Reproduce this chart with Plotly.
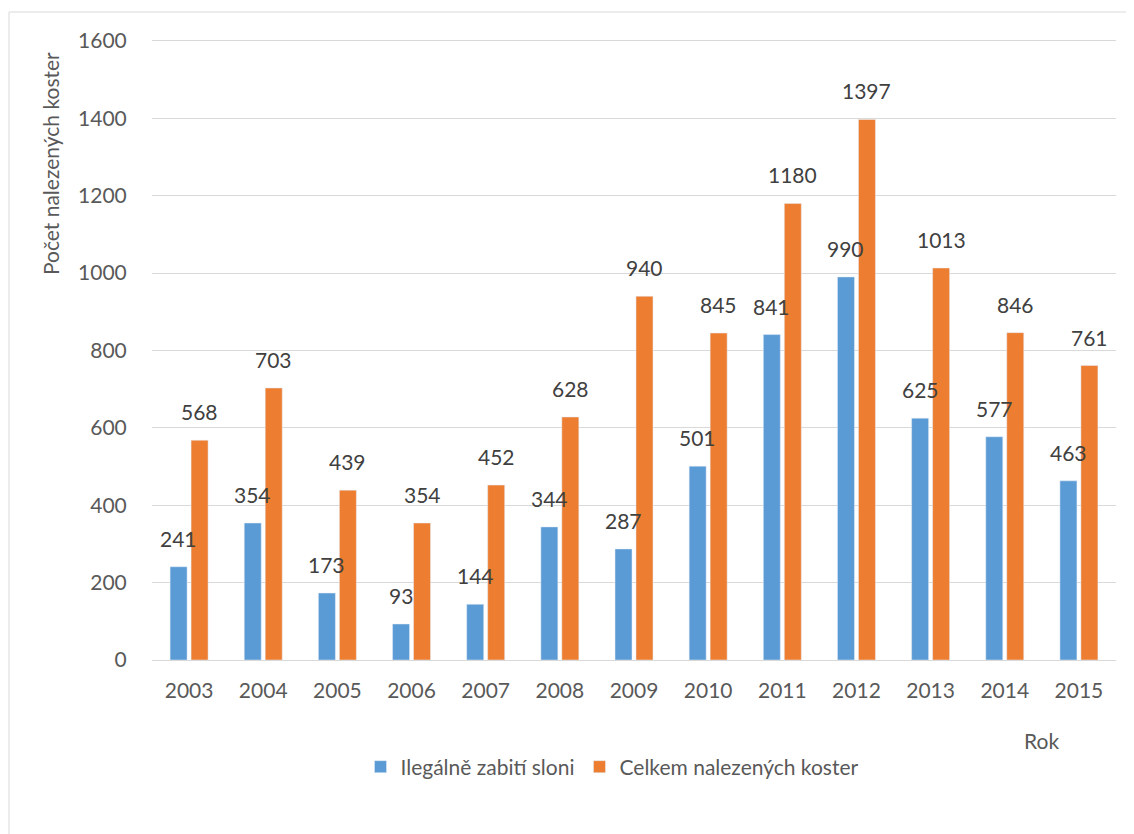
import plotly.graph_objects as go

years = ["2003", "2004", "2005", "2006", "2007", "2008", "2009", "2010", "2011", "2012", "2013", "2014", "2015"]
illegal = [241, 354, 173, 93, 144, 344, 287, 501, 841, 990, 625, 577, 463]
total = [568, 703, 439, 354, 452, 628, 940, 845, 1180, 1397, 1013, 846, 761]
series_names = ["Ilegálně zabití sloni", "Celkem nalezených koster"]
y_ticks = [0, 200, 400, 600, 800, 1000, 1200, 1400, 1600]

BLUE = "#5B9BD5"
ORANGE = "#ED7D31"
TXT = "#595959"
GRID = "#D9D9D9"
FONT = "Lato, Carlito, Calibri, sans-serif"

# plot area on screen: x 152..1116, y(0)=660, y(1600)=41 ; page body offset 8px
PH = 623  # plot height in px for range 0..1610

def py(screen_y):
    return (660 - screen_y) / PH

def px(screen_x):
    return (screen_x - 152) / 964

fig = go.Figure()
fig.add_trace(go.Bar(x=years, y=illegal, name=series_names[0], marker_color=BLUE))
fig.add_trace(go.Bar(x=years, y=total, name=series_names[1], marker_color=ORANGE))

annotations = []
for xs, vals in ((-10.5, illegal), (10.5, total)):
    for i, v in enumerate(vals):
        annotations.append(dict(x=i, y=v, xref="x", yref="y", text=str(v), showarrow=False,
                                xshift=xs, yshift=14, yanchor="bottom",
                                font=dict(family=FONT, size=21, color="#404040")))

annotations.append(dict(x=px(1041), y=py(740), xref="paper", yref="paper",
                        text="Rok", showarrow=False, xanchor="center", yanchor="middle",
                        font=dict(family=FONT, size=21, color=TXT)))
annotations.append(dict(x=px(50), y=py(164), xref="paper", yref="paper",
                        text="Počet nalezených koster", showarrow=False, textangle=-90,
                        xanchor="center", yanchor="middle",
                        font=dict(family=FONT, size=21, color=TXT)))

fig.update_layout(
    width=1134, height=834, autosize=False,
    margin=dict(l=144, r=26, t=29, b=182),
    paper_bgcolor="white", plot_bgcolor="white",
    barmode="group", bargap=0.434, bargroupgap=0.19,
    font=dict(family=FONT, size=21, color=TXT),
    showlegend=True,
    legend=dict(orientation="h", x=px(612), xanchor="center",
                y=py(767), yanchor="middle",
                font=dict(family=FONT, size=21, color=TXT), itemwidth=30),
    annotations=annotations,
    shapes=[dict(type="rect", xref="paper", yref="paper",
                 x0=px(9), x1=px(1145),
                 y0=py(845), y1=py(12),
                 line=dict(color=GRID, width=1), fillcolor="rgba(0,0,0,0)", layer="below")],
)
fig.update_xaxes(type="category", range=[-0.5, len(years) - 0.5],
                 showgrid=False, showline=True, linecolor=GRID, linewidth=1,
                 ticks="outside", ticklen=12, tickcolor="rgba(0,0,0,0)",
                 tickfont=dict(family=FONT, size=21, color=TXT))
fig.update_yaxes(range=[0, 1610], tickvals=y_ticks, showgrid=True, gridcolor=GRID, gridwidth=1,
                 zeroline=False, showline=False,
                 ticks="outside", ticklen=20, tickcolor="rgba(0,0,0,0)",
                 tickfont=dict(family=FONT, size=21, color=TXT))

fig.write_html("out.html")
